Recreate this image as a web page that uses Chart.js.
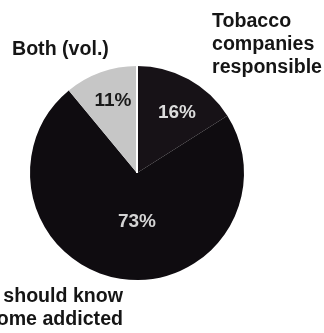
<!DOCTYPE html>
<html>
<head>
<meta charset="utf-8">
<script src="https://cdn.jsdelivr.net/npm/chart.js@4/dist/chart.umd.min.js"></script>
<style>
  html, body { margin: 0; padding: 0; background: #fff; }
  #pie { display: block; }
</style>
</head>
<body>
<canvas id="pie" width="324" height="333"></canvas>
<script>
// Данные диаграммы
const labels = ['Tobacco companies responsible', 'Smokers should know they would become addicted', 'Both (vol.)'];
const values = [16, 73, 11];
const colors = ['#171217', '#0f0c10', '#c6c6c6'];
const valueTextColors = ['#dcdcdc', '#d4d4d4', '#1a1a1a'];

// Смещения подписей процентов от центра круга
const valueOffsets = [[40, -60], [0, 49], [-24, -72]];

// Подписи категорий (строки и позиции текста)
const categoryText = [
    { lines: ['Tobacco', 'companies', 'responsible'], x: 212, y: 27, align: 'left' },
    { lines: ['Both (vol.)'], x: 12, y: 55, align: 'left' },
    { lines: ['Smokers should know', 'they would become addicted'], x: 123, y: 302, align: 'right' }
];

const FONT = 'bold 19.6px "Liberation Sans", Arial, sans-serif';

// Плагин для подписей и белой линии на 12 часов
const labelsPlugin = {
    id: 'labelsPlugin',
    afterDatasetsDraw(chart) {
        const ctx = chart.ctx;
        const meta = chart.getDatasetMeta(0);
        const first = meta.data[0];
        const cx = first.x, cy = first.y, r = first.outerRadius;

        // белая разделительная линия
        ctx.save();
        ctx.strokeStyle = '#ffffff';
        ctx.lineWidth = 2;
        ctx.beginPath();
        ctx.moveTo(cx, cy);
        ctx.lineTo(cx + r * Math.cos(first.startAngle), cy + r * Math.sin(first.startAngle));
        ctx.stroke();

        // проценты
        ctx.font = 'bold 19px "Liberation Sans", Arial, sans-serif';
        ctx.textAlign = 'center';
        ctx.textBaseline = 'middle';
        values.forEach((v, i) => {
            ctx.fillStyle = valueTextColors[i];
            ctx.fillText(v + '%', cx + valueOffsets[i][0], cy + valueOffsets[i][1]);
        });

        // подписи категорий
        ctx.font = FONT;
        ctx.fillStyle = '#151515';
        ctx.textBaseline = 'alphabetic';
        categoryText.forEach(item => {
            ctx.textAlign = item.align;
            item.lines.forEach((line, j) => {
                ctx.fillText(line, item.x, item.y + j * 23);
            });
        });
        ctx.restore();
    }
};

const chart = new Chart(document.getElementById('pie'), {
    type: 'pie',
    data: {
        labels: labels,
        datasets: [{
            data: values,
            backgroundColor: colors,
            borderWidth: 0
        }]
    },
    options: {
        responsive: false,
        animation: false,
        layout: {
            padding: { left: 30, right: 80, top: 66, bottom: 53 }
        },
        plugins: {
            legend: { display: false },
            tooltip: { enabled: false }
        }
    },
    plugins: [labelsPlugin]
});
</script>
</body>
</html>
